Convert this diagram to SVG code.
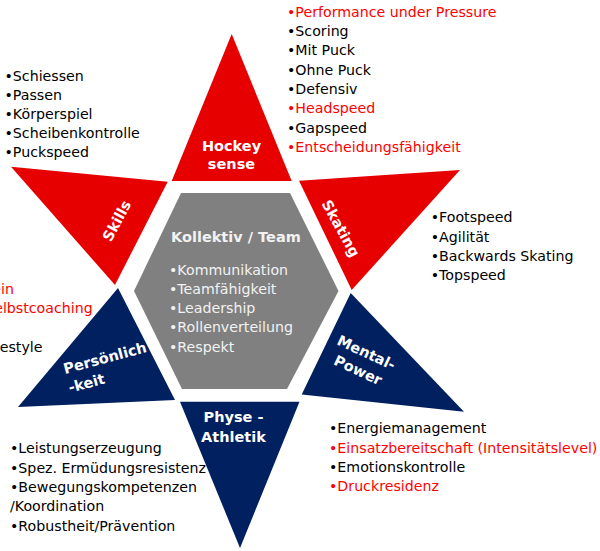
<svg xmlns="http://www.w3.org/2000/svg" width="600" height="551" viewBox="0 0 600 551">
<style>
.t{font-family:"DejaVu Sans",Verdana,sans-serif;font-size:14.2px}
.k{fill:#000}
.r{fill:#ff0000}
.lbl{font-family:"DejaVu Sans",Verdana,sans-serif;font-weight:bold;font-size:14.5px;fill:#fff}
.red{fill:#e60000}
.navy{fill:#002060}
.hex{fill:#808080}
.hxt{fill:#f2f2f2}
</style>
<rect width="600" height="551" fill="#fff"/>

<g id="hockey-sense">
<polygon class="red" points="231.7,34 171.7,181 291.7,181"/>
<text class="lbl" text-anchor="middle" x="231.5" y="150.5">Hockey</text>
<text class="lbl" text-anchor="middle" x="231.5" y="169">sense</text>
</g>

<g id="skills">
<polygon class="red" points="11,166.7 167.7,181.7 115,285"/>
<text class="lbl" text-anchor="middle" transform="translate(121.3,223.2) rotate(-62)">Skills</text>
</g>

<g id="skating">
<polygon class="red" points="299,180.7 460,170 351.7,290"/>
<text class="lbl" text-anchor="middle" transform="translate(336.3,230.9) rotate(61)">Skating</text>
</g>

<g id="kollektiv-team">
<polygon class="hex" points="134,291 181,193 290,193 338.5,291 287,389 182,389"/>
<text class="lbl hxt" x="171" y="241.5">Kollektiv / Team</text>
<text class="t hxt" x="169" y="274.5">•Kommunikation</text>
<text class="t hxt" x="169" y="293.8">•Teamfähigkeit</text>
<text class="t hxt" x="169" y="313.1">•Leadership</text>
<text class="t hxt" x="169" y="332.4">•Rollenverteilung</text>
<text class="t hxt" x="169" y="351.7">•Respekt</text>
</g>

<g id="persoenlichkeit">
<polygon class="navy" points="118,288 18,407 175,400"/>
<text class="lbl" transform="translate(65,374) rotate(-15)"><tspan x="0" y="0">Persönlich</tspan><tspan x="0" y="19.5">-keit</tspan></text>
</g>

<g id="mental-power">
<polygon class="navy" points="350.7,293 301.7,394.5 464,411.7"/>
<text class="lbl" text-anchor="middle" transform="translate(364.2,357.2) rotate(25)"><tspan x="0" y="0">Mental-</tspan><tspan x="0" y="19.5">Power</tspan></text>
</g>

<g id="physe-athletik">
<polygon class="navy" points="180,401.7 299.5,401.7 240,548"/>
<text class="lbl" text-anchor="middle" x="233.5" y="421.7">Physe -</text>
<text class="lbl" text-anchor="middle" x="233.5" y="442.3">Athletik</text>
</g>

<g id="list-hockey-sense" class="t">
<text class="r" x="287" y="16.7">•Performance under Pressure</text>
<text class="k" x="287" y="36">•Scoring</text>
<text class="k" x="287" y="55.3">•Mit Puck</text>
<text class="k" x="287" y="74.6">•Ohne Puck</text>
<text class="k" x="287" y="93.9">•Defensiv</text>
<text class="r" x="287" y="113.2">•Headspeed</text>
<text class="k" x="287" y="132.5">•Gapspeed</text>
<text class="r" x="287" y="151.8">•Entscheidungsfähigkeit</text>
</g>

<g id="list-skills" class="t">
<text class="k" x="4.5" y="81">•Schiessen</text>
<text class="k" x="4.5" y="100.1">•Passen</text>
<text class="k" x="4.5" y="119.2">•Körperspiel</text>
<text class="k" x="4.5" y="138.3">•Scheibenkontrolle</text>
<text class="k" x="4.5" y="157.4">•Puckspeed</text>
</g>

<g id="list-skating" class="t">
<text class="k" x="430.7" y="222.3">•Footspeed</text>
<text class="k" x="430.7" y="241.6">•Agilität</text>
<text class="k" x="430.7" y="260.9">•Backwards Skating</text>
<text class="k" x="430.7" y="280.2">•Topspeed</text>
</g>

<g id="list-persoenlichkeit" class="t" text-anchor="end">
<text class="r" x="14" y="294">ein</text>
<text class="r" x="92.7" y="312.7">elbstcoaching</text>
<text class="k" x="42.5" y="351.7">estyle</text>
</g>

<g id="list-mental-power" class="t">
<text class="k" x="329" y="433.3">•Energiemanagement</text>
<text class="r" x="329" y="452.6">•Einsatzbereitschaft (Intensitätslevel)</text>
<text class="k" x="329" y="471.9">•Emotionskontrolle</text>
<text class="r" x="329" y="491.2">•Druckresidenz</text>
</g>

<g id="list-physe-athletik" class="t">
<text class="k" x="10" y="453.3">•Leistungserzeugung</text>
<text class="k" x="10" y="472.6">•Spez. Ermüdungsresistenz</text>
<text class="k" x="10" y="491.9">•Bewegungskompetenzen</text>
<text class="k" x="10" y="511.2">/Koordination</text>
<text class="k" x="10" y="530.5">•Robustheit/Prävention</text>
</g>
</svg>
